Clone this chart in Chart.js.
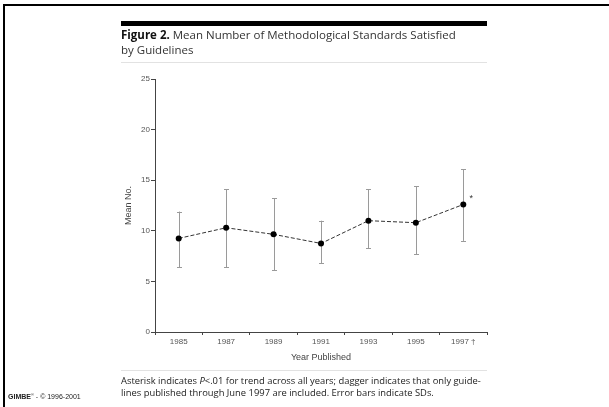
<!DOCTYPE html>
<html>
<head>
<meta charset="utf-8">
<script src="https://cdn.jsdelivr.net/npm/chart.js@4/dist/chart.umd.min.js"></script>
<style>
    html, body { margin: 0; padding: 0; background: #fff; }
    #page { position: relative; width: 609px; height: 407px; overflow: hidden; }
    #myChart { position: absolute; left: 0; top: 0; }
    .rule { position: absolute; }
    #frameTop { left: 3px; top: 4px; width: 606px; height: 2px; background: #000; }
    #frameLeft { left: 3px; top: 4px; width: 2px; height: 403px; background: #000; }
    #bar { left: 121px; top: 21px; width: 366px; height: 5px; background: #000; }
    #sepTop { left: 121px; top: 62px; width: 366px; height: 1px; background: #e2e2e2; }
    #sepBottom { left: 121px; top: 370px; width: 366px; height: 1px; background: #e2e2e2; }
    #title { position: absolute; left: 121px; top: 28px; font: 11.5px/14.5px "Open Sans"; color: #333; white-space: nowrap; }
    #title b { color: #111; }
    #note { position: absolute; left: 121px; top: 375px; font: 9.4px/12px "Open Sans"; color: #222; white-space: nowrap; }
    #credit { position: absolute; left: 8px; top: 390px; font: 7px/10px "Liberation Sans"; color: #222; white-space: nowrap; }
</style>
</head>
<body>
<div id="page">
    <canvas id="myChart" width="609" height="407"></canvas>
    <div class="rule" id="frameTop"></div>
    <div class="rule" id="frameLeft"></div>
    <div class="rule" id="bar"></div>
    <div class="rule" id="sepTop"></div>
    <div class="rule" id="sepBottom"></div>
    <div id="title"><b>Figure 2.</b> Mean Number of Methodological Standards Satisfied<br>by Guidelines</div>
    <div id="note">Asterisk indicates <i>P</i>&lt;.01 for trend across all years; dagger indicates that only guide-<br>lines published through June 1997 are included. Error bars indicate SDs.</div>
    <div id="credit"><b>GIMBE</b><sup style="font-size:4px">®</sup> - © 1996-2001</div>
</div>
<script>
var years = ['1985', '1987', '1989', '1991', '1993', '1995', '1997 †'];
var means = [9.25, 10.3, 9.65, 8.75, 11.0, 10.8, 12.6];
var sdLow = [6.4, 6.4, 6.1, 6.8, 8.3, 7.7, 9.0];
var sdHigh = [11.9, 14.1, 13.2, 11.0, 14.1, 14.4, 16.1];
var yTicks = [0, 5, 10, 15, 20, 25];
var marked = [false, false, false, false, false, false, true];

(function () {
    'use strict';

    var errorBars = {
        id: 'errorBars',
        beforeDatasetsDraw: function (chart) {
            var ctx = chart.ctx;
            var x = chart.scales.x;
            var y = chart.scales.y;
            ctx.save();
            ctx.strokeStyle = '#9a9a9a';
            ctx.lineWidth = 1;
            years.forEach(function (year, i) {
                var px = Math.round(x.getPixelForValue(i)) + 0.5;
                var top = y.getPixelForValue(sdHigh[i]);
                var bottom = y.getPixelForValue(sdLow[i]);
                ctx.beginPath();
                ctx.moveTo(px, top);
                ctx.lineTo(px, bottom);
                ctx.moveTo(px - 2.5, Math.round(top) + 0.5);
                ctx.lineTo(px + 2.5, Math.round(top) + 0.5);
                ctx.moveTo(px - 2.5, Math.round(bottom) + 0.5);
                ctx.lineTo(px + 2.5, Math.round(bottom) + 0.5);
                ctx.stroke();
            });
            ctx.restore();
        },
        afterDatasetsDraw: function (chart) {
            var ctx = chart.ctx;
            var meta = chart.getDatasetMeta(0);
            ctx.save();
            ctx.fillStyle = '#333';
            ctx.font = '9px "Liberation Sans"';
            ctx.textAlign = 'center';
            ctx.textBaseline = 'middle';
            meta.data.forEach(function (point, i) {
                if (marked[i]) {
                    ctx.fillText('*', point.x + 8, point.y - 6);
                }
            });
            ctx.restore();
        }
    };

    var tickFont = { family: 'Liberation Sans', size: 8 };

    new Chart(document.getElementById('myChart'), {
        type: 'line',
        data: {
            labels: years,
            datasets: [
                {
                    label: 'Mean No.',
                    data: means,
                    borderColor: '#333',
                    borderWidth: 1,
                    borderDash: [4, 2],
                    pointRadius: 3,
                    pointBackgroundColor: '#000',
                    pointBorderColor: '#000',
                    pointBorderWidth: 0,
                    tension: 0,
                    fill: false
                }
            ]
        },
        options: {
            responsive: false,
            animation: false,
            layout: {
                padding: { left: 120, right: 122, top: 79, bottom: 43 }
            },
            plugins: {
                legend: { display: false },
                tooltip: { enabled: false }
            },
            scales: {
                x: {
                    type: 'category',
                    offset: true,
                    afterFit: function (scale) { scale.height = 32; },
                    grid: {
                        offset: true,
                        drawOnChartArea: false,
                        tickLength: 3,
                        color: '#444'
                    },
                    border: { color: '#444', width: 1 },
                    ticks: {
                        font: tickFont,
                        color: '#555',
                        padding: 2,
                        maxRotation: 0,
                        autoSkip: false
                    },
                    title: {
                        display: true,
                        text: 'Year Published',
                        font: { family: 'Liberation Sans', size: 9 },
                        color: '#444',
                        padding: 1
                    }
                },
                y: {
                    min: yTicks[0],
                    max: yTicks[yTicks.length - 1],
                    afterFit: function (scale) { scale.width = 35; },
                    afterBuildTicks: function (scale) {
                        scale.ticks = yTicks.map(function (v) { return { value: v }; });
                    },
                    grid: {
                        drawOnChartArea: false,
                        tickLength: 4,
                        color: '#444'
                    },
                    border: { color: '#444', width: 1 },
                    ticks: {
                        font: tickFont,
                        color: '#555',
                        padding: 1
                    },
                    title: {
                        display: true,
                        text: 'Mean No.',
                        font: { family: 'Liberation Sans', size: 9 },
                        color: '#444',
                        padding: 3
                    }
                }
            }
        },
        plugins: [errorBars]
    });
})();
</script>
</body>
</html>
